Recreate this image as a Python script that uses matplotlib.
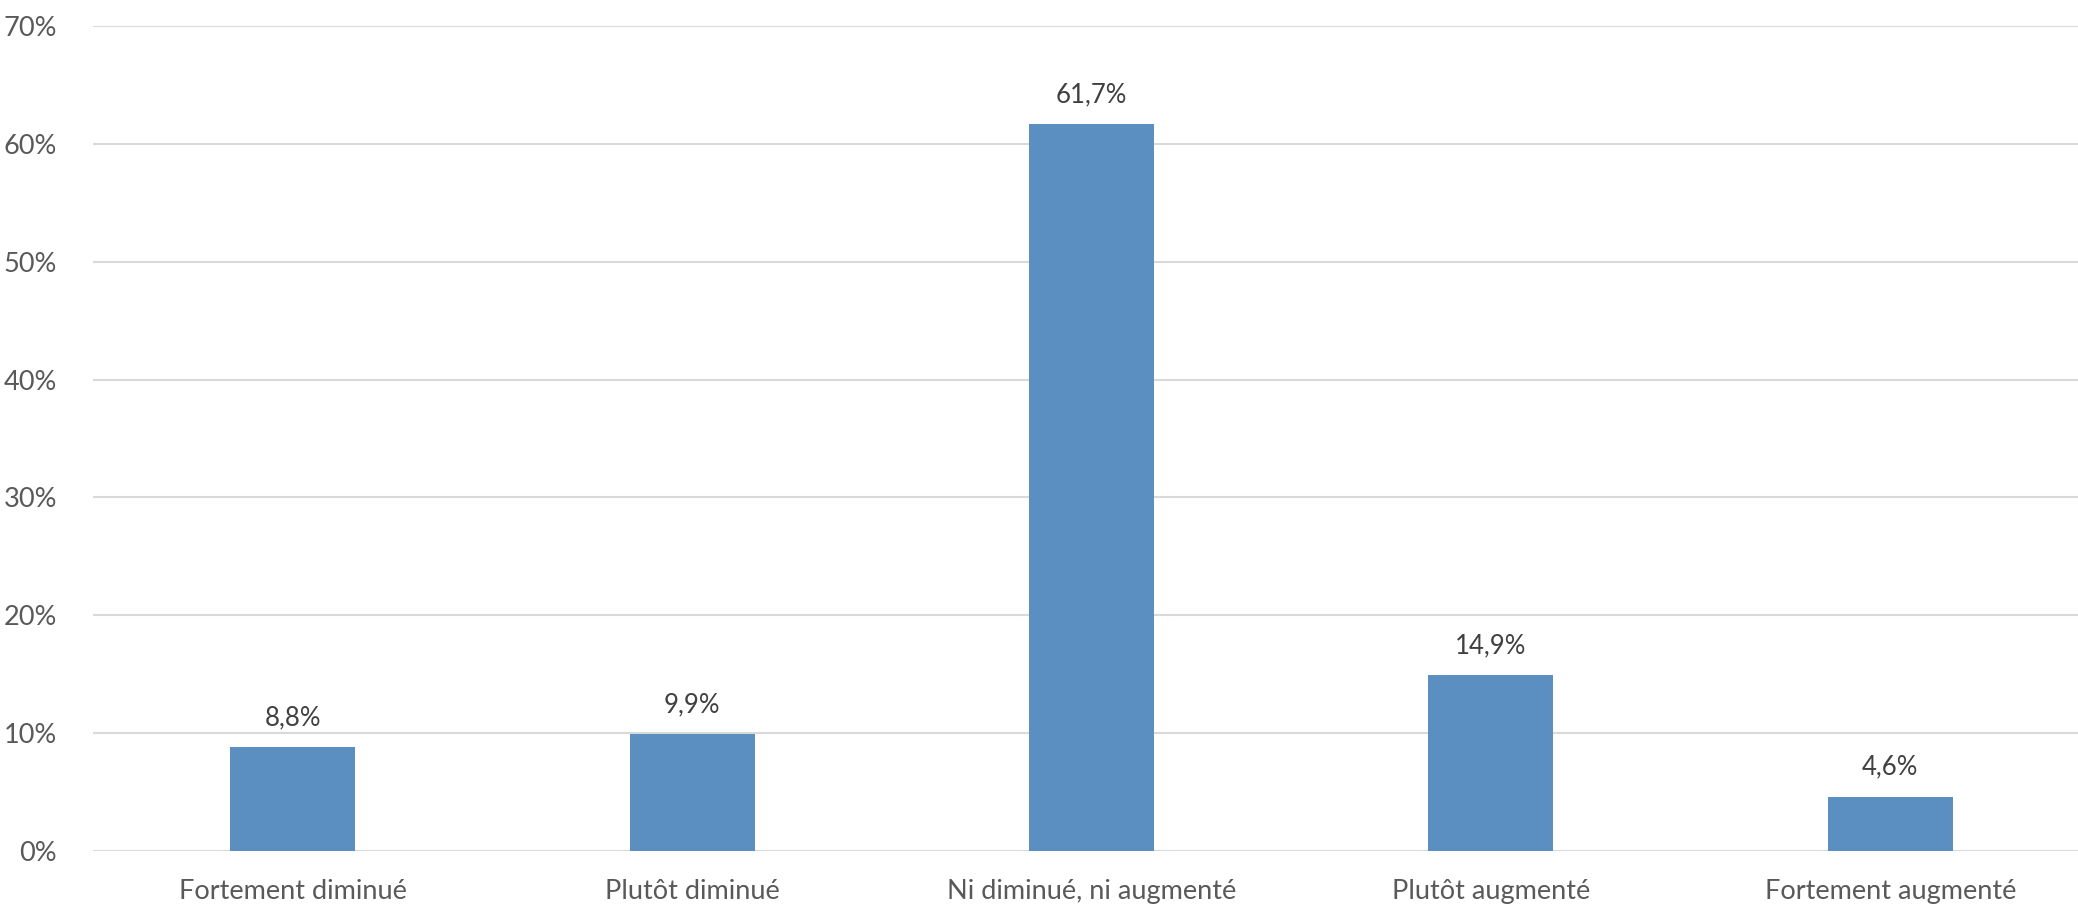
import matplotlib.pyplot as plt
import numpy as np

categories = ['Fortement diminué', 'Plutôt diminué', 'Ni diminué, ni augmenté',
              'Plutôt augmenté', 'Fortement augmenté']
values = [8.8, 9.9, 61.7, 14.9, 4.6]
labels = ['8,8%', '9,9%', '61,7%', '14,9%', '4,6%']

plt.rcParams['font.family'] = ['Lato', 'DejaVu Sans']

fig = plt.figure(figsize=(20.78, 9.08), dpi=100)
ax = fig.add_axes([0.0448, 0.0628, 0.9552, 0.9086])

x = np.arange(len(categories))
bars = ax.bar(x, values, width=0.313, color='#5B8EC1', zorder=3)
for b, lab in zip(bars, labels):
    ax.text(b.get_x() + b.get_width() / 2, b.get_height() + 2.5, lab,
            ha='center', va='center', fontsize=18.5, color='#404040')

# plot area is cut off at the right edge, as in the original
ax.set_xlim(-0.5, 4.47)
ax.set_ylim(0, 70)
ax.set_yticks(range(0, 71, 10))
ax.set_yticklabels([f'{v}%' for v in range(0, 71, 10)])
ax.set_xticks(x)
ax.set_xticklabels(categories)
ax.tick_params(axis='y', length=0, pad=26, labelsize=19.5, labelcolor='#595959')
ax.tick_params(axis='x', length=0, pad=20, labelsize=19.5, labelcolor='#595959')
ax.grid(axis='y', color='#D9D9D9', linewidth=1.5, zorder=0)
for s in ax.spines.values():
    s.set_visible(False)

fig.savefig('out.png', dpi=100)
